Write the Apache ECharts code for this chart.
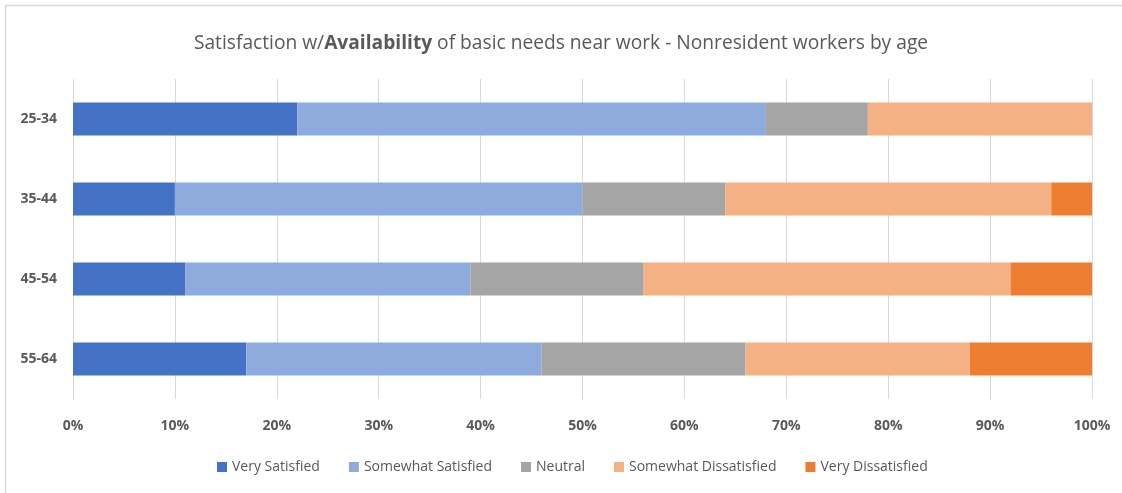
<!DOCTYPE html>
<html>
<head>
<meta charset="utf-8">
<script src="https://cdn.jsdelivr.net/npm/echarts@6/dist/echarts.min.js"></script>
<style>
html,body{margin:0;padding:0;background:#fff;}
#main{width:1122px;height:493px;}
</style>
</head>
<body>
<div id="main"></div>
<script>
const categories = ['25-34', '35-44', '45-54', '55-64'];
const seriesNames = ['Very Satisfied', 'Somewhat Satisfied', 'Neutral', 'Somewhat Dissatisfied', 'Very Dissatisfied'];
const verySatisfied = [22, 10, 11, 17];
const somewhatSatisfied = [46, 40, 28, 29];
const neutral = [10, 14, 17, 20];
const somewhatDissatisfied = [22, 32, 36, 22];
const veryDissatisfied = [0, 4, 8, 12];
const xTicks = [0, 10, 20, 30, 40, 50, 60, 70, 80, 90, 100];

const colors = ['#4472c4', '#8faadc', '#a5a5a5', '#f4b183', '#ed7d31'];
const dataSets = [verySatisfied, somewhatSatisfied, neutral, somewhatDissatisfied, veryDissatisfied];
const font = 'Open Sans';

const chart = echarts.init(document.getElementById('main'));
chart.setOption({
  animation: false,
  color: colors,
  textStyle: { fontFamily: font },
  title: {
    text: '{n|Satisfaction w/}{b|Availability}{n| of basic needs near work - Nonresident workers by age}',
    left: 'center',
    top: 29,
    textStyle: {
      fontWeight: 'normal',
      rich: {
        n: { fontFamily: font, fontSize: 19.2, color: '#595959', fontWeight: 'normal' },
        b: { fontFamily: font, fontSize: 19.2, color: '#595959', fontWeight: 'bold' }
      }
    }
  },
  graphic: [{
    type: 'polyline',
    shape: { points: [[5.5, 493], [5.5, 5.5], [1122, 5.5]] },
    style: { stroke: '#d9d9d9', lineWidth: 1.5, fill: null }
  }],
  legend: {
    bottom: 14,
    left: 212,
    itemWidth: 10,
    itemHeight: 10,
    itemGap: 29,
    icon: 'rect',
    textStyle: { fontFamily: font, fontSize: 14, color: '#595959' },
    data: seriesNames
  },
  grid: { left: 73, right: 30, top: 79, bottom: 94 },
  xAxis: {
    type: 'value',
    min: 0,
    max: 100,
    interval: 10,
    axisLine: { show: false },
    axisTick: { show: false },
    splitLine: { lineStyle: { color: '#d9d9d9', width: 1 } },
    axisLabel: {
      margin: 20,
      fontFamily: font,
      fontWeight: 'bold',
      fontSize: 14,
      color: '#595959',
      formatter: v => xTicks.includes(v) ? v + '%' : ''
    }
  },
  yAxis: {
    type: 'category',
    inverse: true,
    data: categories,
    axisLine: { show: true, lineStyle: { color: '#d9d9d9' } },
    axisTick: { show: false },
    axisLabel: {
      margin: 16,
      fontFamily: font,
      fontWeight: 'bold',
      fontSize: 14,
      color: '#595959'
    }
  },
  series: dataSets.map((d, i) => ({
    name: seriesNames[i],
    type: 'bar',
    stack: 'total',
    barWidth: 33,
    data: d,
    itemStyle: { color: colors[i] }
  }))
});
</script>
</body>
</html>
